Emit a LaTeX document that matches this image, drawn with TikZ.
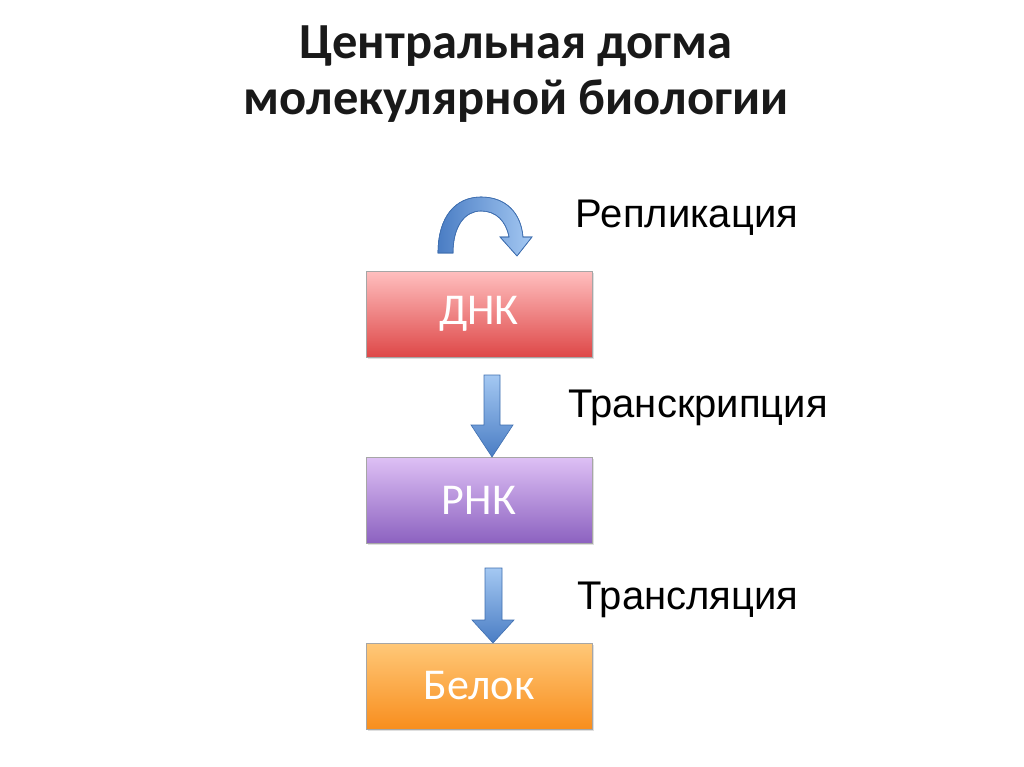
\documentclass[tikz,border=0pt]{standalone}
\usepackage{fontspec}
\setmainfont{Carlito}
\newfontfamily\lblfont{Liberation Sans}
\usetikzlibrary{shadows}
\definecolor{arrowlight}{HTML}{A4C8F2}
\definecolor{arrowdark}{HTML}{4A7DC4}
\definecolor{arrowedge}{HTML}{3F6FB0}
\tikzset{
  box/.style={draw=black!35, line width=0.8pt, minimum width=226pt, minimum height=86pt,
    inner sep=0pt, text=white, font=\fontsize{44}{50}\selectfont,
    drop shadow={shadow xshift=1.5pt, shadow yshift=-2pt, opacity=0.25}},
  blockarrow/.style={draw=arrowedge, line width=0.6pt, top color=arrowlight, bottom color=arrowdark},
  lbl/.style={font=\lblfont\fontsize{40}{46}\selectfont, text=black},
  ttl/.style={font=\bfseries\fontsize{50.5}{56}\selectfont, align=center, text=black!90}
}
\begin{document}
\begin{tikzpicture}[x=1pt,y=-1pt]
\useasboundingbox (0,0) rectangle (1024,767);
\fill[white] (0,0) rectangle (1024,767);
% title
\node[ttl] (title) at (516,74) {Центральная догма\\молекулярной биологии};
% boxes
\node[box, top color=red!25!white, bottom color={rgb,255:red,222;green,72;blue,72}] (dna) at (479,314) {ДНК};
\node[box, top color={rgb,255:red,222;green,192;blue,245}, bottom color={rgb,255:red,140;green,98;blue,192}] (rna) at (479,500) {РНК};
\node[box, top color={rgb,255:red,255;green,200;blue,120}, bottom color={rgb,255:red,248;green,142;blue,30}] (prot) at (479,686) {Белок};
% labels
\node[lbl] (rep) at (687,218) {Репликация};
\node[lbl] (trc) at (698,408) {Транскрипция};
\node[lbl] (trl) at (688,600) {Трансляция};
% curved replication arrow
\path[blockarrow, left color=arrowdark, right color=arrowlight]
  (438,253) .. controls (438,216) and (456,197) .. (481,197)
  .. controls (506,197) and (521,213) .. (523,237)
  -- (532,237) -- (517,256) -- (500,237) -- (509,237)
  .. controls (506,221) and (496,211) .. (481,211)
  .. controls (465,211) and (453,226) .. (453,253) -- cycle;
\draw[arrowedge, line width=0.6pt] (438,253) .. controls (438,216) and (456,197) .. (481,197)
  .. controls (506,197) and (521,213) .. (523,237)
  -- (532,237) -- (517,256) -- (500,237) -- (509,237)
  .. controls (506,221) and (496,211) .. (481,211)
  .. controls (465,211) and (453,226) .. (453,253) -- cycle;
% transcription arrow
\path[blockarrow] (484,375) -- (500,375) -- (500,425) -- (513,425) -- (492,457)
  -- (471,425) -- (484,425) -- cycle;
% translation arrow
\path[blockarrow] (485,568) -- (502,568) -- (502,620) -- (514,620) -- (493,643)
  -- (472,620) -- (485,620) -- cycle;
\end{tikzpicture}
\end{document}
